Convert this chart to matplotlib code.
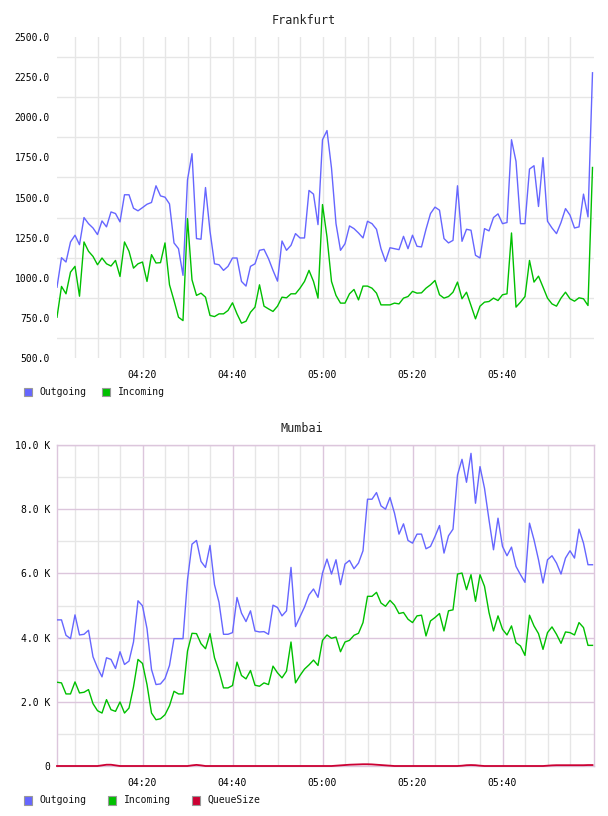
import matplotlib
matplotlib.use("Agg")
import matplotlib.pyplot as plt
import matplotlib.dates as mdates
from matplotlib.patches import Rectangle
from matplotlib.ticker import FixedLocator
import pandas as pd

# ---------------- data ----------------
start_time = "2024-01-01 04:01"
n_points = 120

fra_outgoing = [941, 1125, 1098, 1223, 1265, 1206, 1375, 1337, 1310, 1269,
                1354, 1317, 1410, 1400, 1348, 1517, 1517, 1433, 1417, 1437,
                1458, 1469, 1573, 1510, 1502, 1460, 1217, 1181, 1015, 1610,
                1773, 1244, 1240, 1562, 1290, 1087, 1081, 1046, 1071, 1123,
                1123, 977, 948, 1071, 1087, 1171, 1177, 1119, 1046, 979,
                1229, 1171, 1202, 1275, 1248, 1248, 1544, 1521, 1331, 1860,
                1917, 1683, 1337, 1171, 1212, 1323, 1306, 1279, 1248, 1352,
                1337, 1302, 1181, 1102, 1187, 1181, 1175, 1258, 1181, 1265,
                1196, 1192, 1302, 1400, 1440, 1421, 1244, 1217, 1233, 1573,
                1227, 1302, 1296, 1140, 1123, 1306, 1292, 1375, 1398, 1337,
                1344, 1860, 1725, 1337, 1337, 1677, 1698, 1444, 1748, 1352,
                1310, 1275, 1344, 1431, 1390, 1310, 1317, 1521, 1379, 2277]

fra_incoming = [754, 946, 900, 1035, 1071, 885, 1223, 1165, 1133, 1081,
                1123, 1087, 1073, 1108, 1008, 1223, 1165, 1060, 1087, 1098,
                977, 1144, 1092, 1094, 1217, 956, 858, 754, 733, 1369,
                987, 890, 904, 879, 765, 758, 775, 775, 796, 844,
                775, 717, 729, 785, 817, 956, 823, 806, 790, 823,
                879, 875, 900, 900, 935, 977, 1046, 977, 873, 1456,
                1254, 977, 890, 842, 842, 900, 927, 862, 948, 948,
                935, 904, 831, 831, 831, 842, 837, 873, 883, 915,
                904, 906, 935, 956, 983, 894, 873, 883, 910, 973,
                869, 910, 827, 744, 823, 848, 852, 873, 858, 894,
                900, 1279, 817, 848, 883, 1108, 973, 1010, 942, 873,
                837, 823, 873, 910, 869, 854, 875, 869, 827, 1687]

mum_outgoing = [4552, 4552, 4072, 3967, 4708, 4082, 4103, 4228, 3403, 3059,
                2777, 3372, 3320, 3038, 3560, 3163, 3268, 3863, 5147, 4990,
                4280, 3007, 2537, 2558, 2725, 3132, 3967, 3967, 3967, 5800,
                6912, 7026, 6373, 6187, 6871, 5648, 5099, 4103, 4103, 4155,
                5250, 4761, 4500, 4834, 4207, 4176, 4186, 4103, 5010, 4938,
                4677, 4834, 6187, 4343, 4650, 4950, 5330, 5514, 5255, 6011,
                6446, 5980, 6425, 5648, 6291, 6405, 6146, 6322, 6705, 8311,
                8311, 8518, 8104, 8000, 8363, 7876, 7223, 7544, 7026, 6943,
                7223, 7223, 6767, 6840, 7150, 7492, 6633, 7171, 7378, 9067,
                9554, 8839, 9740, 8186, 9326, 8653, 7668, 6736, 7720, 6840,
                6550, 6819, 6218, 5959, 5721, 7565, 7047, 6425, 5700, 6425,
                6550, 6322, 5980, 6477, 6705, 6477, 7378, 6943, 6270, 6270]

mum_incoming = [2610, 2589, 2245, 2245, 2620, 2276, 2297, 2380, 1942, 1723,
                1650, 2067, 1754, 1702, 1994, 1650, 1806, 2464, 3320, 3195,
                2537, 1650, 1441, 1472, 1597, 1879, 2328, 2245, 2245, 3581,
                4134, 4124, 3811, 3654, 4124, 3372, 2955, 2433, 2433, 2506,
                3236, 2819, 2714, 2975, 2516, 2485, 2589, 2537, 3111, 2902,
                2746, 2955, 3863, 2589, 2820, 3020, 3150, 3299, 3132, 3915,
                4082, 3978, 4019, 3560, 3863, 3915, 4072, 4134, 4468, 5286,
                5286, 5410, 5078, 4975, 5160, 5011, 4750, 4782, 4573, 4468,
                4677, 4698, 4051, 4520, 4625, 4750, 4207, 4834, 4865, 5980,
                6011, 5493, 5959, 5130, 5959, 5597, 4782, 4207, 4677, 4260,
                4082, 4364, 3842, 3738, 3445, 4698, 4364, 4124, 3633, 4155,
                4333, 4103, 3821, 4176, 4155, 4082, 4468, 4312, 3758, 3758]

mum_queue = [0, 0, 0, 0, 0, 0, 0, 0, 0, 0,
             20, 40, 40, 20, 0, 0, 0, 0, 0, 0,
             0, 0, 0, 0, 0, 0, 0, 0, 0, 0,
             20, 35, 20, 0, 0, 0, 0, 0, 0, 0,
             0, 0, 0, 0, 0, 0, 0, 0, 0, 0,
             0, 0, 0, 0, 0, 0, 0, 0, 0, 0,
             0, 0, 10, 20, 30, 40, 45, 50, 55, 55,
             50, 40, 30, 20, 10, 0, 0, 0, 0, 0,
             0, 0, 0, 0, 0, 0, 0, 0, 0, 0,
             10, 25, 30, 25, 10, 0, 0, 0, 0, 0,
             0, 0, 0, 0, 0, 0, 0, 0, 0, 10,
             20, 25, 25, 25, 25, 25, 25, 25, 30, 30]

x_tick_labels = ["04:20", "04:40", "05:00", "05:20", "05:40"]
fra_y_ticks = [500, 750, 1000, 1250, 1500, 1750, 2000, 2250, 2500]
mum_y_ticks = [0, 2000, 4000, 6000, 8000, 10000]
mum_y_labels = ["0", "2.0 K", "4.0 K", "6.0 K", "8.0 K", "10.0 K"]
series_names = ["Outgoing", "Incoming", "QueueSize"]

# ---------------- style ----------------
C_OUT = "#6666ff"
C_IN = "#00c000"
C_Q = "#cc0033"
GRID = "#e6e6e6"
PURPLE = "#dcc6dc"
FONT = "DejaVu Sans Mono"

W, H = 608, 816
fig = plt.figure(figsize=(W / 100, H / 100), dpi=100)


def fx(px):
    return px / W


def fy(py):
    return 1 - py / H


times = pd.date_range(start_time, periods=n_points, freq="min")
day = times[0].normalize()
x_major = [day + pd.Timedelta(hours=int(s[:2]), minutes=int(s[3:])) for s in x_tick_labels]
x_minor = pd.date_range(day + pd.Timedelta(hours=4, minutes=5), day + pd.Timedelta(hours=5, minutes=55), freq="5min")
x_lo = times[0]
x_hi = times[-1] + pd.Timedelta(seconds=20)

# ---------------- Frankfurt ----------------
ax1 = fig.add_axes([fx(57), fy(358), fx(594 - 57), (358 - 37) / H])
ax1.plot(times, fra_outgoing, color=C_OUT, lw=1.0, zorder=3)
ax1.plot(times, fra_incoming, color=C_IN, lw=1.0, zorder=3)
ax1.set_xlim(x_lo, x_hi)
ax1.set_ylim(500, 2500)
for s in ax1.spines.values():
    s.set_visible(False)
ax1.set_xticks(x_major)
ax1.set_xticklabels(x_tick_labels)
ax1.xaxis.set_minor_locator(FixedLocator(mdates.date2num(x_minor)))
ax1.set_yticks(fra_y_ticks)
ax1.set_yticklabels([f"{v:.1f}" for v in fra_y_ticks])
mid = [(a + b) / 2 for a, b in zip(fra_y_ticks[:-1], fra_y_ticks[1:])]
ax1.yaxis.set_minor_locator(FixedLocator(mid))
ax1.grid(False)
ax1.grid(True, which="minor", axis="both", color=GRID, lw=1.0, zorder=0)
ax1.grid(True, which="major", axis="x", color=GRID, lw=1.0, zorder=0)
ax1.tick_params(which="both", length=0, labelsize=7)
ax1.tick_params(axis="x", pad=9)
ax1.tick_params(axis="y", pad=5)
for lab in ax1.get_xticklabels() + ax1.get_yticklabels():
    lab.set_fontfamily(FONT)
ax1.set_axisbelow(True)
fig.text(fx(304), fy(20), "Frankfurt", ha="center", va="center",
         fontsize=8.5, family=FONT, color="#222222")

# ---------------- Mumbai ----------------
ax2 = fig.add_axes([fx(57), fy(766), fx(594 - 57), (766 - 445) / H])
ax2.plot(times, mum_outgoing, color=C_OUT, lw=1.0, zorder=3)
ax2.plot(times, mum_incoming, color=C_IN, lw=1.0, zorder=3)
ax2.plot(times, mum_queue, color=C_Q, lw=1.3, zorder=4, clip_on=False)
ax2.set_xlim(x_lo, x_hi)
ax2.set_ylim(0, 10000)
for s in ax2.spines.values():
    s.set_color(PURPLE)
    s.set_linewidth(1.0)
ax2.set_xticks(x_major)
ax2.set_xticklabels(x_tick_labels)
ax2.xaxis.set_minor_locator(FixedLocator(mdates.date2num(x_minor)))
ax2.set_yticks(mum_y_ticks)
ax2.set_yticklabels(mum_y_labels)
ax2.yaxis.set_minor_locator(FixedLocator([1000, 3000, 5000, 7000, 9000]))
ax2.grid(True, which="minor", axis="both", color=GRID, lw=1.0, zorder=0)
ax2.grid(True, which="major", axis="both", color=PURPLE, lw=1.0, zorder=1)
ax2.tick_params(which="both", length=0, labelsize=7)
ax2.tick_params(axis="x", pad=9)
ax2.tick_params(axis="y", pad=5)
for lab in ax2.get_xticklabels() + ax2.get_yticklabels():
    lab.set_fontfamily(FONT)
ax2.set_axisbelow(True)
fig.text(fx(302), fy(428), "Mumbai", ha="center", va="center",
         fontsize=8.5, family=FONT, color="#222222")


# ---------------- legends ----------------
def legend_item(x_sw, x_txt, y, color, name):
    fig.add_artist(Rectangle((fx(x_sw), fy(y + 4.5)), 8 / W, 9 / H,
                             transform=fig.transFigure, facecolor=color,
                             edgecolor="#999999", lw=0.8))
    fig.text(fx(x_txt), fy(y), name, ha="left", va="center",
             fontsize=7, family=FONT, color="#111111")


legend_item(24, 39, 392, C_OUT, series_names[0])
legend_item(102, 118, 392, C_IN, series_names[1])
legend_item(24, 39, 800, C_OUT, series_names[0])
legend_item(108, 124, 800, C_IN, series_names[1])
legend_item(192, 207, 800, C_Q, series_names[2])

fig.savefig("out.png", dpi=100)
